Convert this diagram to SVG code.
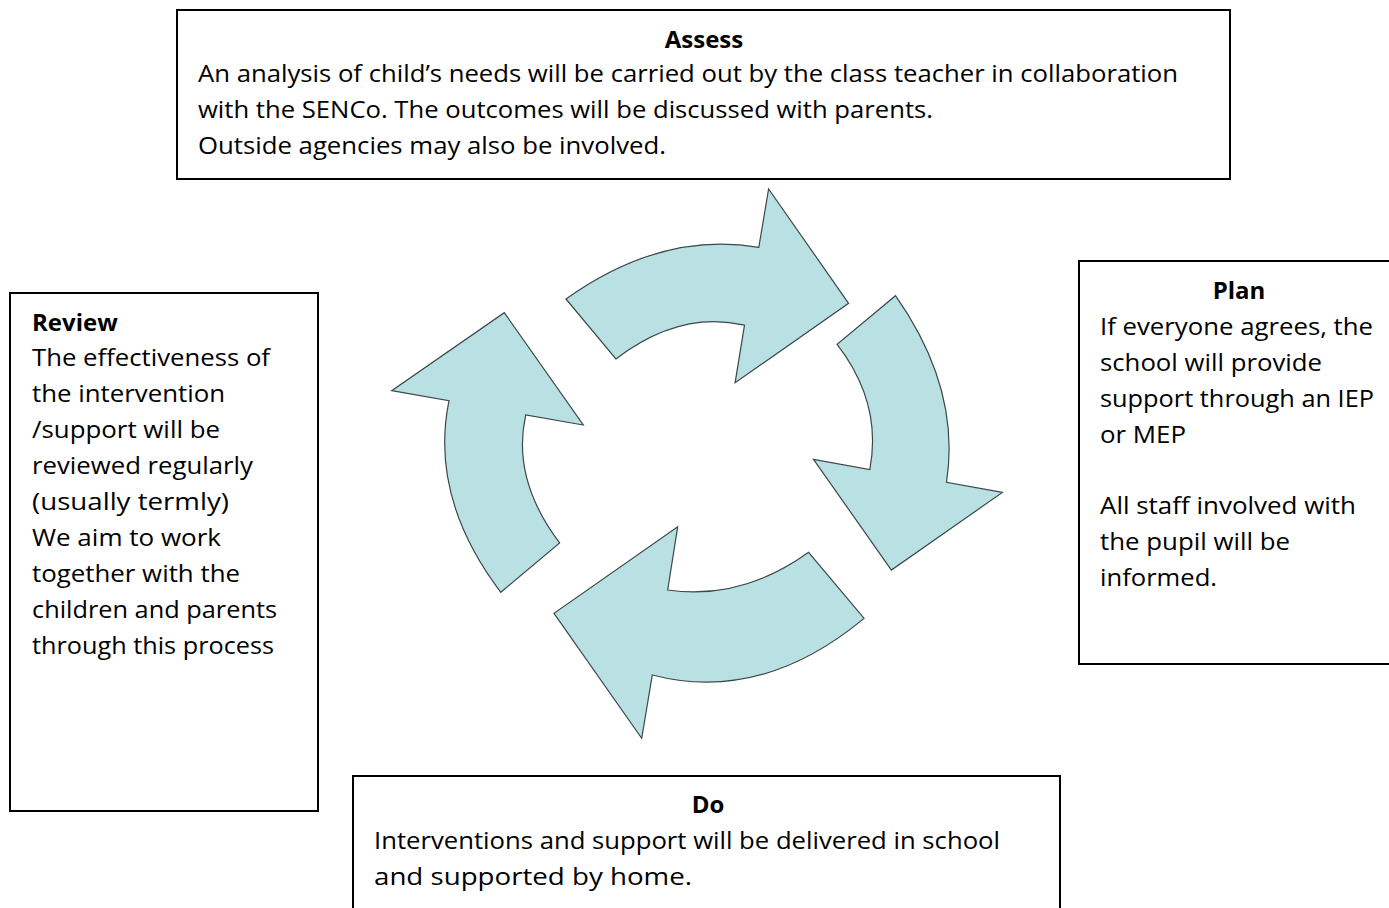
<svg xmlns="http://www.w3.org/2000/svg" width="1389" height="908" viewBox="0 0 1389 908">
<style>
.box{fill:#fff;stroke:#000;stroke-width:2}
.t{font-family:"Open Sans","Noto Sans","Liberation Sans",sans-serif;font-size:24px;fill:#000}
.b{font-weight:bold}
.arr{fill:#b9e0e3;stroke:#3c4848;stroke-width:1.2;stroke-linejoin:miter}
</style>
<rect width="1389" height="908" fill="#fff"/>
<g id="connectors">
<path class="arr" d="M566,299 Q661.6,230.8 758.8,247.4 L768.6,189 L848.6,303.3 L735.1,382.8 L744.5,325.1 Q679.8,310 615.9,358.9 Z"/>
<path class="arr" d="M895.5,295.7 Q961,389 946.5,482.3 L1002.4,492.4 L891.4,570.1 L813.5,459.4 L869.8,469.6 Q882.5,403 837.1,344.3 Z"/>
<path class="arr" d="M864.1,618.4 Q761.6,703.5 652.3,675 L641.7,738.3 L554,613.3 L677.7,526.7 L667.7,590 Q741.4,600.6 808.6,552.3 Z"/>
<path class="arr" d="M500.8,592.3 Q429.1,497.5 449,400.7 L391.7,390.7 L504.3,312.7 L583.3,425 L525.7,415 Q511.35,479 559.6,542.9 Z"/>
</g>
<g id="assess">
<rect class="box" x="177" y="10" width="1053" height="169"/>
<text class="t b" x="704" y="48" text-anchor="middle">Assess</text>
<text class="t" x="198" y="82" textLength="980" lengthAdjust="spacingAndGlyphs">An analysis of child’s needs will be carried out by the class teacher in collaboration</text>
<text class="t" x="198" y="118" textLength="735" lengthAdjust="spacingAndGlyphs">with the SENCo. The outcomes will be discussed with parents.</text>
<text class="t" x="198" y="154" textLength="468" lengthAdjust="spacingAndGlyphs">Outside agencies may also be involved.</text>
</g>
<g id="review">
<rect class="box" x="10" y="293" width="308" height="518"/>
<text class="t b" x="32" y="331">Review</text>
<text class="t" x="32" y="366" textLength="238" lengthAdjust="spacingAndGlyphs">The effectiveness of</text>
<text class="t" x="32" y="402" textLength="193" lengthAdjust="spacingAndGlyphs">the intervention</text>
<text class="t" x="32" y="438" textLength="188" lengthAdjust="spacingAndGlyphs">/support will be</text>
<text class="t" x="32" y="474" textLength="221" lengthAdjust="spacingAndGlyphs">reviewed regularly</text>
<text class="t" x="32" y="510" textLength="197" lengthAdjust="spacingAndGlyphs">(usually termly)</text>
<text class="t" x="32" y="546" textLength="189" lengthAdjust="spacingAndGlyphs">We aim to work</text>
<text class="t" x="32" y="582" textLength="208" lengthAdjust="spacingAndGlyphs">together with the</text>
<text class="t" x="32" y="618" textLength="245" lengthAdjust="spacingAndGlyphs">children and parents</text>
<text class="t" x="32" y="654" textLength="242" lengthAdjust="spacingAndGlyphs">through this process</text>
</g>
<g id="plan">
<rect class="box" x="1079" y="261" width="320" height="403"/>
<text class="t b" x="1239" y="299" text-anchor="middle">Plan</text>
<text class="t" x="1100" y="335" textLength="273" lengthAdjust="spacingAndGlyphs">If everyone agrees, the</text>
<text class="t" x="1100" y="371" textLength="222" lengthAdjust="spacingAndGlyphs">school will provide</text>
<text class="t" x="1100" y="407" textLength="274" lengthAdjust="spacingAndGlyphs">support through an IEP</text>
<text class="t" x="1100" y="443" textLength="86" lengthAdjust="spacingAndGlyphs">or MEP</text>
<text class="t" x="1100" y="514" textLength="256" lengthAdjust="spacingAndGlyphs">All staff involved with</text>
<text class="t" x="1100" y="550" textLength="190" lengthAdjust="spacingAndGlyphs">the pupil will be</text>
<text class="t" x="1100" y="586" textLength="117" lengthAdjust="spacingAndGlyphs">informed.</text>
</g>
<g id="do">
<rect class="box" x="353" y="776" width="707" height="150"/>
<text class="t b" x="708" y="813" text-anchor="middle">Do</text>
<text class="t" x="374" y="849" textLength="626" lengthAdjust="spacingAndGlyphs">Interventions and support will be delivered in school</text>
<text class="t" x="374" y="885" textLength="318" lengthAdjust="spacingAndGlyphs">and supported by home.</text>
</g>
</svg>
